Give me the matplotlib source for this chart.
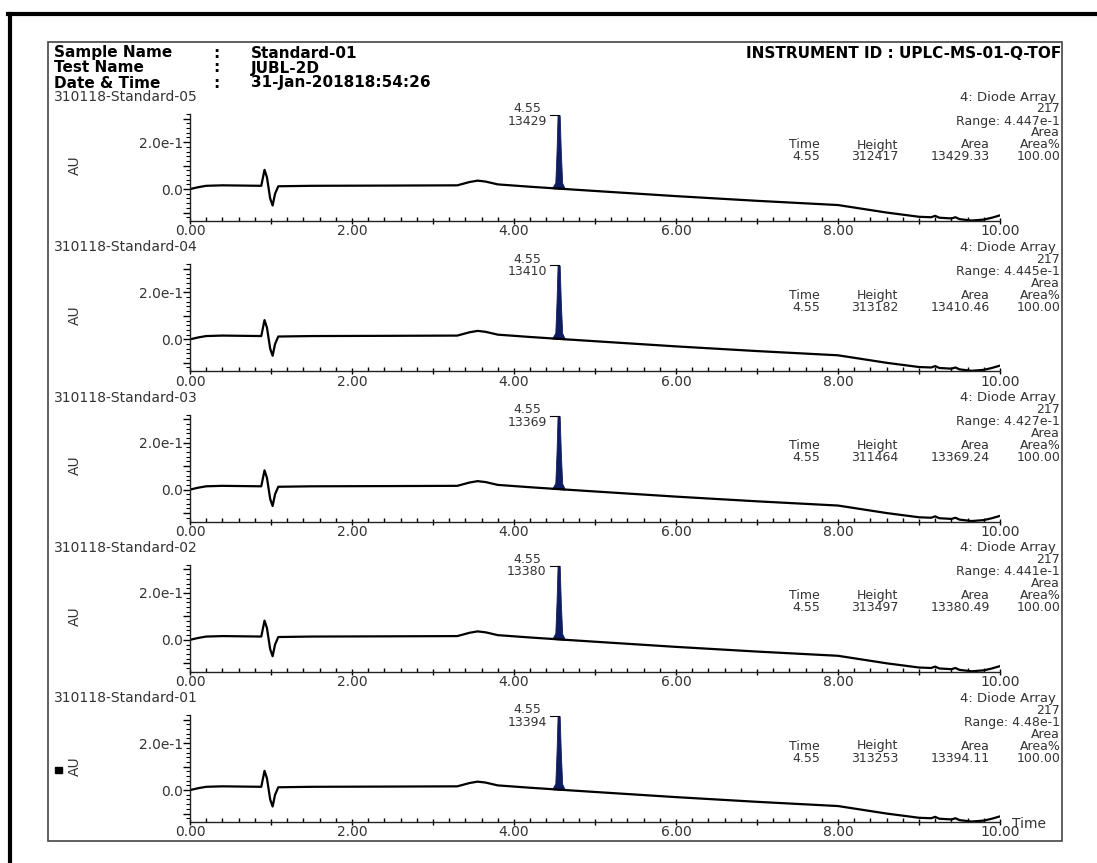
import numpy as np
import matplotlib
matplotlib.use("Agg")
import matplotlib.pyplot as plt
from matplotlib.lines import Line2D
from matplotlib.patches import Rectangle
from matplotlib.ticker import MultipleLocator, FuncFormatter

plt.rcParams['font.family'] = ['DejaVu Sans']

W, H = 1097, 863

# header
header_labels = ["Sample Name", "Test Name", "Date & Time"]
header_values = ["Standard-01", "JUBL-2D", "31-Jan-201818:54:26"]
instrument = "INSTRUMENT ID : UPLC-MS-01-Q-TOF"

# one entry per trace, top to bottom
samples = ["310118-Standard-05", "310118-Standard-04", "310118-Standard-03",
           "310118-Standard-02", "310118-Standard-01"]
ranges = ["4.447e-1", "4.445e-1", "4.427e-1", "4.441e-1", "4.48e-1"]
peak_time = [4.55, 4.55, 4.55, 4.55, 4.55]
heights = [312417, 313182, 311464, 313497, 313253]   # uAU
areas = [13429.33, 13410.46, 13369.24, 13380.49, 13394.11]
area_pct = [100.00, 100.00, 100.00, 100.00, 100.00]

# baseline (time min, AU)
base_t = [0.0, 0.1, 0.2, 0.4, 0.88, 0.92, 0.95, 0.99, 1.02, 1.05, 1.09, 1.5, 2.5,
          3.3, 3.45, 3.55, 3.65, 3.8, 4.2, 4.55, 5.0, 6.0, 7.0, 8.0, 8.15, 8.6,
          9.0, 9.15, 9.2, 9.25, 9.4, 9.45, 9.5, 9.65, 9.8, 9.9, 10.0]
base_au = [0.0, 0.008, 0.014, 0.016, 0.014, 0.082, 0.05, -0.04, -0.07, -0.02, 0.012,
           0.014, 0.015, 0.016, 0.03, 0.036, 0.032, 0.02, 0.01, 0.002, -0.008, -0.03,
           -0.05, -0.068, -0.076, -0.1, -0.118, -0.12, -0.114, -0.122, -0.125, -0.12,
           -0.128, -0.134, -0.13, -0.122, -0.112]
# peak shape above baseline (offset in min from apex time, fraction of height)
peak_dt = [-0.08, -0.04, -0.025, -0.012, 0.014, 0.028, 0.045, 0.08]
peak_frac = [0.0, 0.08, 0.5, 1.0, 1.0, 0.5, 0.08, 0.0]

fig = plt.figure(figsize=(W / 100, H / 100), dpi=100)

def fx(px):
    return px / W

def fy(py):
    return 1 - py / H

txt = '#333333'
fs = 10     # axis / label text
fi = 9      # info block text
# outer frame (top and left)
fig.add_artist(Line2D([fx(8), fx(1097)], [fy(14), fy(14)], color='k', lw=3))
fig.add_artist(Line2D([fx(10), fx(10)], [fy(14), fy(863)], color='k', lw=3))
# inner frame
fig.add_artist(Rectangle((fx(48), fy(841)), fx(1062) - fx(48), fy(42) - fy(841),
                         fill=False, ec='#444444', lw=1.2))

for i, (lab, val) in enumerate(zip(header_labels, header_values)):
    yy = fy(53 + i * 15)
    fig.text(fx(54), yy, lab, fontsize=11, fontweight='bold', va='center')
    fig.text(fx(213), yy, ":", fontsize=11, fontweight='bold', va='center')
    fig.text(fx(251), yy, val, fontsize=11, fontweight='bold', va='center')
fig.text(fx(1061), fy(53), instrument, fontsize=11, fontweight='bold',
         va='center', ha='right')

stride = 150.25
for i in range(5):
    off = i * stride
    y0 = 221 + off
    ax = fig.add_axes([fx(190), fy(y0), fx(1000) - fx(190), (107) / H])
    ax.set_xlim(0, 10)
    ax.set_ylim(-0.136, 0.32)
    ax.patch.set_alpha(0)

    h = heights[i] / 1e6
    pt = np.array(peak_time[i]) + np.array(peak_dt)
    pb = np.interp(pt, base_t, base_au)
    py = pb + np.array(peak_frac) * h
    ax.plot(base_t, base_au, color='k', lw=1.6)
    ax.fill_between(pt, pb, py, color='#101c60', lw=0.6, ec='#101c60')
    top = pb[3] + h
    ax.plot([peak_time[i] - 0.11, peak_time[i] + 0.01], [top, top],
            color='k', lw=0.8, clip_on=False)
    ax.text(peak_time[i] - 0.39, top, "%.2f\n%d" % (peak_time[i], round(areas[i])),
            ha='center', va='center', fontsize=fi, color=txt, linespacing=0.95,
            clip_on=False)

    for s in ['top', 'right']:
        ax.spines[s].set_visible(False)
    for s in ['left', 'bottom']:
        ax.spines[s].set_color('#222222')
        ax.spines[s].set_linewidth(1.0)
    ax.xaxis.set_major_locator(MultipleLocator(1.0))
    ax.xaxis.set_minor_locator(MultipleLocator(0.2))
    ax.xaxis.set_major_formatter(FuncFormatter(
        lambda v, p: "%.2f" % v if round(v) % 2 == 0 else ""))
    ax.yaxis.set_major_locator(MultipleLocator(0.1))
    ax.yaxis.set_minor_locator(MultipleLocator(0.02))
    ax.yaxis.set_major_formatter(FuncFormatter(
        lambda v, p: {0: "0.0", 2: "2.0e-1"}.get(int(round(v * 10)), "")))
    ax.tick_params(axis='x', which='major', direction='inout', length=5, width=1,
                   labelsize=fs, labelcolor=txt, pad=0)
    ax.tick_params(axis='x', which='minor', direction='in', length=3, width=1)
    ax.tick_params(axis='y', which='major', direction='out', length=5, width=1,
                   labelsize=fs, labelcolor=txt, pad=0)
    ax.tick_params(axis='y', which='minor', direction='out', length=3, width=0.8)

    # left labels
    fig.text(fx(54), fy(97 + off), samples[i], fontsize=fs, color=txt, va='center')
    fig.text(fx(75), fy(165 + off), "AU", fontsize=fs, color=txt, rotation=90,
             va='center', ha='center')

    # right info block
    right = 1060
    fig.text(fx(1056), fy(97 + off), "4: Diode Array", fontsize=fi + 0.5, color=txt,
             ha='right', va='center')
    fig.text(fx(right), fy(109 + off), "217", fontsize=fi, color=txt, ha='right', va='center')
    fig.text(fx(right), fy(121 + off), "Range: " + ranges[i], fontsize=fi, color=txt,
             ha='right', va='center')
    fig.text(fx(right), fy(133 + off), "Area", fontsize=fi, color=txt, ha='right', va='center')
    cols = [820, 898, 990, 1061]
    heads = ["Time", "Height", "Area", "Area%"]
    vals = ["%.2f" % peak_time[i], "%d" % heights[i], "%.2f" % areas[i], "%.2f" % area_pct[i]]
    for c, hd, v in zip(cols, heads, vals):
        fig.text(fx(c), fy(145 + off), hd, fontsize=fi, color=txt, ha='right', va='center')
        fig.text(fx(c), fy(157 + off), v, fontsize=fi, color=txt, ha='right', va='center')

fig.text(fx(1012), fy(824), "Time", fontsize=fs, color=txt, va='center')
fig.add_artist(Rectangle((fx(55), fy(773)), 7 / W, 6 / H, color='k'))

fig.savefig("out.png", dpi=100)
